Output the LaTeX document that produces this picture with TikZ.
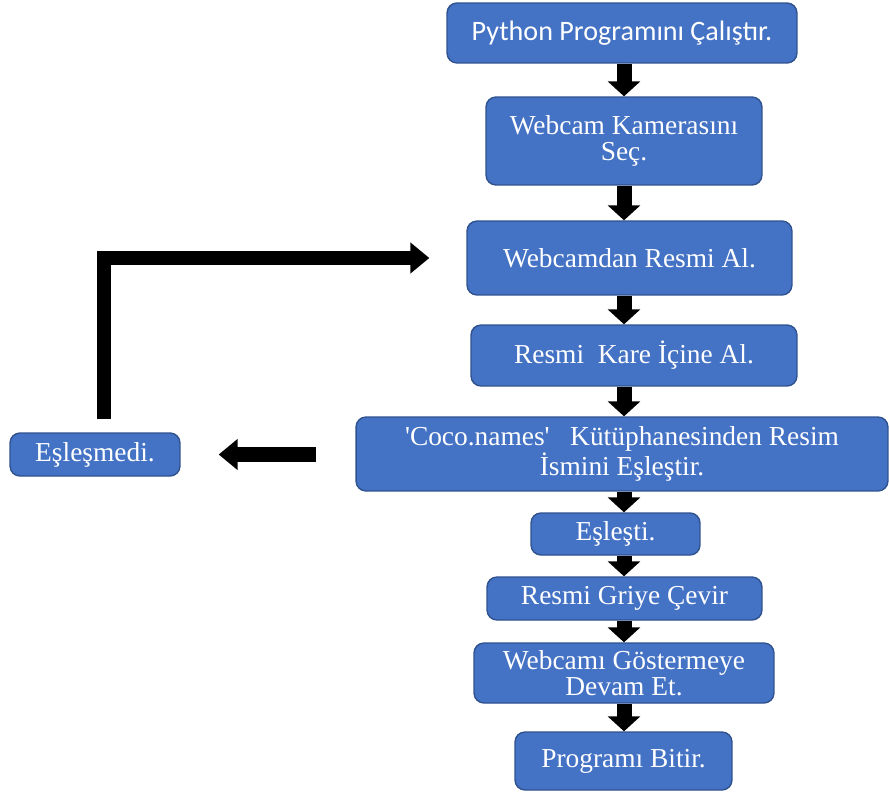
\documentclass[tikz,border=0pt]{standalone}
\usepackage{fontspec}
\setmainfont{Liberation Serif}
\newfontfamily\calibri{Carlito}
\usepackage{tikz}
\usetikzlibrary{positioning,arrows.meta}
\definecolor{boxblue}{HTML}{4472C4}
\definecolor{boxline}{HTML}{2F528F}

\begin{document}
\begin{tikzpicture}[x=0.02cm, y=-0.02cm,
      box/.style={draw=boxline, line width=0.8pt, fill=boxblue, rounded corners=0.2cm,
                  align=center, text=white, inner sep=2pt,
                  font=\fontsize{15.6}{14.6}\selectfont},
      sansbox/.style={box, font=\calibri\fontsize{16}{16}\selectfont},
      flow/.style={line width=0.3cm, -{Triangle[width=0.64cm, length=0.3cm]}},
      side/.style={line width=0.29cm, -{Triangle[width=0.6cm, length=0.38cm]}}]
    \useasboundingbox (0,0) rectangle (889,794);
    \node[sansbox, minimum width=7cm,    minimum height=1.2cm]  (run)   at (622,33)    {Python Programını Çalıştır.};
    \node[box,     minimum width=5.52cm, minimum height=1.76cm] (cam)   at (624,141)   {Webcam Kamerasını\\ Seç.};
    \node[box,     minimum width=6.5cm,  minimum height=1.48cm] (take)  at (629.5,258) {Webcamdan Resmi Al.};
    \node[box,     minimum width=6.52cm, minimum height=1.22cm] (frame) at (634,355.5) {Resmi\ \ Kare İçine Al.};
    \node[box,     minimum width=10.64cm,minimum height=1.48cm] (match) at (622,454)   {\textquotesingle Coco.names\textquotesingle\ \ \ Kütüphanesinden Resim\\ İsmini Eşleştir.};
    \node[box,     minimum width=3.38cm, minimum height=0.84cm] (yes)   at (615.5,534) {Eşleşti.};
    \node[box,     minimum width=5.5cm,  minimum height=0.86cm] (gray)  at (624.5,598.5) {Resmi Griye Çevir};
    \node[box,     minimum width=6cm,    minimum height=1.2cm]  (show)  at (624,673)   {Webcamı Göstermeye\\ Devam Et.};
    \node[box,     minimum width=4.34cm, minimum height=1.16cm] (stop)  at (623.5,761) {Programı Bitir.};
    \node[box,     minimum width=3.4cm,  minimum height=0.86cm] (no)    at (95,454.5)  {Eşleşmedi.};
    \coordinate (axis) at (624,0);
    \draw[flow] (run.south -| axis)   -- (cam.north -| axis);
    \draw[flow] (cam.south -| axis)   -- (take.north -| axis);
    \draw[flow] (take.south -| axis)  -- (frame.north -| axis);
    \draw[flow] (frame.south -| axis) -- (match.north -| axis);
    \draw[flow] (match.south -| axis) -- (yes.north -| axis);
    \draw[flow] (yes.south -| axis)   -- (gray.north -| axis);
    \draw[flow] (gray.south -| axis)  -- (show.north -| axis);
    \draw[flow] (show.south -| axis)  -- (stop.north -| axis);
    % not matched: back to the webcam
    \draw[side, shorten <=0.78cm, shorten >=0.76cm] (match.west |- no) -- (no.east);
    \draw[side, shorten >=0.74cm] ([xshift=0.18cm, yshift=0.26cm]no.north) |- (take.west);
  \end{tikzpicture}
\end{document}
